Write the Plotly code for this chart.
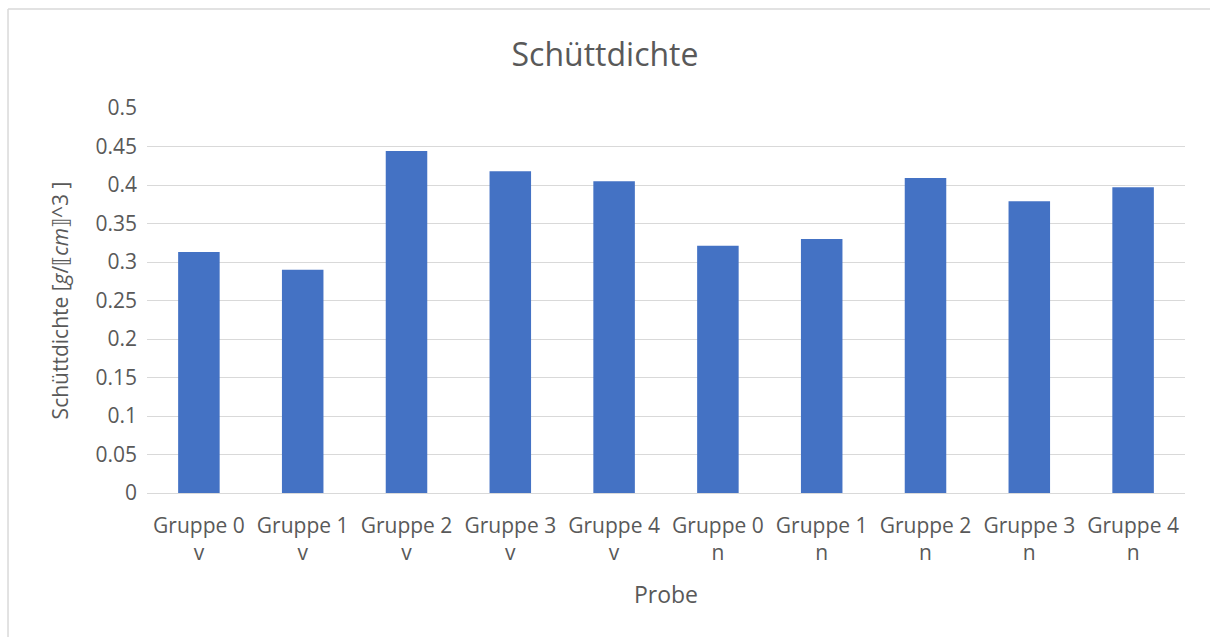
import plotly.graph_objects as go

categories = ["Gruppe 0<br>v", "Gruppe 1<br>v", "Gruppe 2<br>v", "Gruppe 3<br>v", "Gruppe 4<br>v",
              "Gruppe 0<br>n", "Gruppe 1<br>n", "Gruppe 2<br>n", "Gruppe 3<br>n", "Gruppe 4<br>n"]
values = [0.313, 0.290, 0.444, 0.418, 0.405, 0.321, 0.330, 0.409, 0.379, 0.397]

FONT = "Open Sans"
GREY = "#595959"
BORDER = "#d9d9d9"

fig = go.Figure(go.Bar(x=categories, y=values, marker=dict(color="#4472C4", line=dict(width=0))))

fig.update_layout(
    width=1210, height=637,
    margin=dict(l=147, r=25, t=108, b=144),
    paper_bgcolor="white", plot_bgcolor="white",
    bargap=0.6,
    showlegend=False,
    font=dict(family=FONT, color=GREY, size=21),
    title=dict(text="Schüttdichte", x=0.5, xanchor="center", y=1 - 55 / 637, yanchor="middle",
               font=dict(family=FONT, size=32, color=GREY)),
    xaxis=dict(title=dict(text="Probe", font=dict(size=23, color=GREY), standoff=21),
               tickfont=dict(size=21, color=GREY), showgrid=False, showline=False,
               ticks="", ticklabelstandoff=18),
    yaxis=dict(title=dict(text="Schüttdichte [<i>g</i>/⟦<i>cm</i>⟧^3 ]", font=dict(size=21, color=GREY), standoff=21),
               range=[0, 0.5], dtick=0.05, tick0=0,
               tickfont=dict(size=21, color=GREY),
               showgrid=True, gridcolor="#d9d9d9", gridwidth=1,
               zeroline=True, zerolinecolor="#d9d9d9", zerolinewidth=1,
               showline=False, ticks="", ticklabelstandoff=9),
    shapes=[
        dict(type="line", xref="paper", yref="paper", x0=-0.1339, x1=1.2, y0=1.2571, y1=1.2571,
             line=dict(color=BORDER, width=1.5), layer="below"),
        dict(type="line", xref="paper", yref="paper", x0=-0.1339, x1=-0.1339, y0=-0.5, y1=1.2571,
             line=dict(color=BORDER, width=1.5), layer="below"),
    ],
)

fig.write_html("out.html",
               config={"displayModeBar": False},
               post_script="document.body.style.margin='0';document.body.style.overflow='hidden';")
